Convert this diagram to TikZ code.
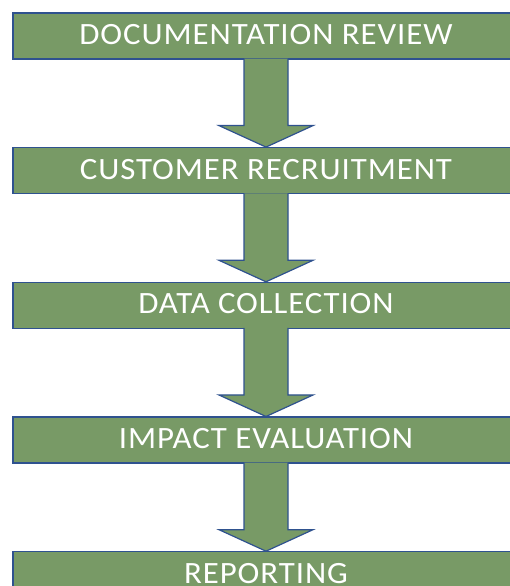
\documentclass[tikz,border=0pt]{standalone}
\usepackage{fontspec}
\setmainfont{Carlito}[FakeStretch=1.06, LetterSpace=3]
\usetikzlibrary{positioning,calc}
\definecolor{stagegreen}{HTML}{789A66}
\definecolor{edgeblue}{HTML}{2F528F}

\begin{document}
\begin{tikzpicture}[x=1pt,y=1pt,
  stage/.style={draw=edgeblue, line width=1.2pt, fill=stagegreen, minimum width=506pt,
    minimum height=46pt, inner sep=0pt, text depth=3pt, text=white, font=\fontsize{31}{31}\selectfont},
  flow/.style={draw=edgeblue, line width=1.2pt, fill=stagegreen, line join=miter}]
\useasboundingbox (0,0) rectangle (509,586);
\node[stage] (doc) at (266,550) {DOCUMENTATION REVIEW};
\node[stage, below=87.5pt of doc] (recruit) {CUSTOMER RECRUITMENT};
\node[stage, below=87.5pt of recruit] (data) {DATA COLLECTION};
\node[stage, below=87.5pt of data] (impact) {IMPACT EVALUATION};
\node[stage, below=87.5pt of impact] (report) {REPORTING};
\foreach \a/\b in {doc/recruit, recruit/data, data/impact, impact/report}
  \path[flow] ($(\a.south)+(-22,1)$) -- ($(\b.north)+(-22,21.5)$) -- ($(\b.north)+(-47,21.5)$)
    -- (\b.north) -- ($(\b.north)+(47,21.5)$) -- ($(\b.north)+(22,21.5)$) -- ($(\a.south)+(22,1)$);
\end{tikzpicture}
\end{document}
